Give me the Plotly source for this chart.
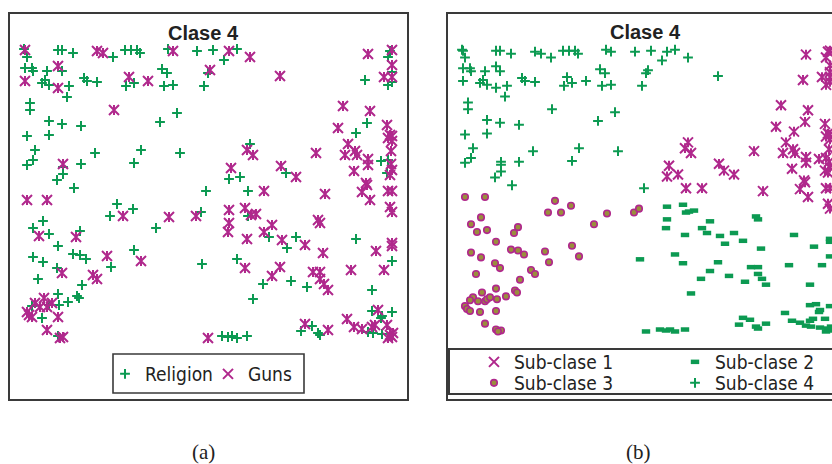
import plotly.graph_objects as go

# Document embedding: one entry per document (x, y), its topic and its sub-class
doc_x = [
    16, 15, 18, 49, 53, 64, 88, 94, 104, 116, 122, 128, 131, 159, 164, 188, 204, 220, 228, 215,
    241, 359, 383, 381, 379, 383,
    16, 23, 24, 38, 53, 49, 16, 33, 36, 40, 49, 60, 58, 75, 78, 88, 120, 117, 125, 139,
    153, 158, 155, 164, 201, 199, 195, 271, 356, 383, 375, 383, 379, 383,
    21, 21, 105, 168, 151, 40, 53, 72, 18, 40, 26, 24, 18, 86, 132, 171, 125, 72, 54, 54,
    54, 48, 65, 197,
    334, 361, 358, 347, 329, 378, 381, 383, 379, 383, 339, 336, 346, 348, 382, 307, 359, 359, 372, 379,
    382, 383, 345, 378, 381, 357, 358, 241, 238, 244, 222, 220, 231, 272, 277, 287, 239, 255, 316, 353,
    361, 379, 383, 381, 383,
    18, 38, 108, 124, 101, 114, 160, 147, 187, 192, 34, 24, 30, 40, 71, 67, 49, 24, 34, 64,
    71, 77, 98, 102, 125, 132, 48, 53, 29, 84, 88, 73, 49, 68, 70, 35, 59, 26, 23, 31,
    38, 40, 43, 50, 18, 20, 23, 33, 49, 38, 49, 54, 51,
    193, 220, 236, 239, 242, 247, 220, 219, 238, 255, 263, 260, 273, 278, 287, 296, 309, 311, 314, 347,
    367, 383, 383, 383, 228, 236, 271, 263, 254, 282, 298, 244, 304, 311, 311, 315, 319, 342, 375, 363,
    363, 369, 373, 372, 383, 338, 345, 353, 363, 366, 378, 381, 383, 379, 384, 359, 364, 373, 311, 309,
    319, 292, 296, 303, 199, 213, 219, 223, 228, 238,
]
doc_y = [
    350, 351, 343, 350, 350, 347, 349, 347, 343, 350, 350, 350, 347, 351, 349, 349, 350, 349, 351, 340,
    343, 346, 350, 349, 343, 335,
    332, 332, 329, 329, 329, 334, 319, 317, 320, 315, 312, 314, 303, 322, 319, 318, 323, 314, 317, 319,
    331, 327, 314, 315, 330, 327, 314, 324, 320, 328, 323, 323, 315, 318,
    297, 290, 290, 287, 278, 279, 276, 274, 264, 265, 250, 240, 235, 247, 250, 247, 237, 236, 236, 233,
    226, 220, 212, 209,
    294, 289, 277, 267, 272, 275, 265, 264, 262, 259, 256, 245, 249, 245, 249, 247, 241, 235, 239, 240,
    236, 230, 229, 227, 225, 217, 215, 256, 250, 245, 232, 221, 223, 234, 227, 223, 209, 209, 206, 208,
    200, 209, 209, 193, 188,
    200, 200, 196, 191, 184, 184, 183, 172, 184, 188, 179, 172, 164, 166, 169, 163, 154, 143, 138, 146,
    145, 141, 144, 133, 150, 139, 132, 127, 121, 125, 121, 115, 106, 104, 102, 102, 98, 97, 94, 93,
    93, 95, 97, 95, 88, 85, 83, 82, 83, 70, 64, 63, 62,
    136, 190, 192, 184, 185, 186, 177, 168, 161, 168, 175, 163, 160, 152, 163, 155, 180, 177, 147, 161,
    149, 157, 154, 139, 141, 132, 133, 124, 116, 119, 113, 101, 128, 128, 121, 116, 110, 130, 130, 110,
    89, 90, 84, 82, 88, 81, 73, 71, 73, 75, 75, 65, 63, 62, 67, 68, 67, 66, 65, 67,
    70, 69, 76, 74, 62, 64, 63, 64, 62, 64,
]
# R = Religion, G = Guns
topic = list(
    "GRRRRRGGRRRRRRGRRGRRGGGRRG"
    "RRRRRGGRRRGRRRRRGRRGRRRRGRRGRRGGRR"
    "RRGRRRRRRRRRRRRRRRGRRRRR"
    "GGRRGGGGGGGGGGGGGGRRGGGRGGGRGGGRRGRGRGGGGGGGG"
    "GGRRRGGRGRRRGRRGRRRRRRGRRGRGRGGRRRRGRGRGGRGRGGGRGGRGG"
    "RGGRGGGGGGGRGRRGGGGRGGGRRGGGRRRRGGGGGGGRRGRRRGGGGGGGGGGRRRRRGRGRGRRRRR"
)
subclass = list(
    "44444444444444444444411111"
    "4444444444444444444444444444111111"
    "444444444444444444444444"
    "111111111111111111111111111111111111111111111"
    "33333333333333333333333333333333333333333333333333333"
    "2222222222222222222222222222222222222222222222222222222222222222222222"
)

topic_names = {"R": "Religion", "G": "Guns"}
topic_order = ["R", "G"]
subclass_names = {"1": "Sub-clase 1", "2": "Sub-clase 2", "3": "Sub-clase 3", "4": "Sub-clase 4"}
panel_title = "Clase 4"
captions = ["(a)", "(b)"]

GREEN = "#0c9a52"
MAGENTA = "#b0288c"
OLIVE = "#9a8e3c"
INK = "#222222"
FRAME = "#3a3a3a"
LABEL_FONT = "DejaVu Sans Condensed, DejaVu Sans, sans-serif"
TITLE_FONT = "Liberation Sans, Arial, sans-serif"
CAPTION_FONT = "Liberation Serif, DejaVu Serif, serif"

W, H = 832, 464


def fx(p):
    return p / W


def fy(p):
    return 1 - p / H


def subset(mask):
    xs = [x for x, m in zip(doc_x, mask) if m]
    ys = [y for y, m in zip(doc_y, mask) if m]
    return xs, ys


plus_marker = dict(symbol="cross-thin-open", size=7, color=GREEN, line=dict(color=GREEN, width=2))
star_x_marker = dict(symbol="x-thin-open", size=10, color=MAGENTA, line=dict(color=MAGENTA, width=2))
star_v_marker = dict(symbol="line-ns-open", size=7, color=MAGENTA, line=dict(color=MAGENTA, width=2))
dash_marker = dict(symbol="line-ew-open", size=6, color=GREEN, line=dict(color=GREEN, width=4.5))
dot_marker = dict(symbol="circle", size=6.5, color=OLIVE, line=dict(color=MAGENTA, width=1.6))

fig = go.Figure()

# (a) documents coloured by topic
for code in topic_order:
    xs, ys = subset([t == code for t in topic])
    if code == "R":
        fig.add_trace(go.Scatter(x=xs, y=ys, mode="markers", name=topic_names[code],
                                 marker=plus_marker, xaxis="x", yaxis="y", legend="legend"))
    else:
        fig.add_trace(go.Scatter(x=xs, y=ys, mode="markers", name=topic_names[code],
                                 marker=star_x_marker, xaxis="x", yaxis="y", legend="legend"))
        fig.add_trace(go.Scatter(x=xs, y=ys, mode="markers", showlegend=False,
                                 marker=star_v_marker, xaxis="x", yaxis="y"))

# (b) the same documents coloured by sub-class
styles = {"1": star_x_marker, "2": dash_marker, "3": dot_marker, "4": plus_marker}
legend_of = {"1": "legend2", "2": "legend2", "3": "legend3", "4": "legend3"}
for code in ["1", "2", "3", "4"]:
    xs, ys = subset([s == code for s in subclass])
    fig.add_trace(go.Scatter(x=xs, y=ys, mode="markers", name=subclass_names[code],
                             marker=styles[code], xaxis="x2", yaxis="y2", legend=legend_of[code]))
    if code == "1":
        fig.add_trace(go.Scatter(x=xs, y=ys, mode="markers", showlegend=False,
                                 marker=star_v_marker, xaxis="x2", yaxis="y2"))

hidden = dict(visible=False, fixedrange=True)
legend_common = dict(orientation="h", bgcolor="rgba(0,0,0,0)", borderwidth=0,
                     font=dict(family=LABEL_FONT, size=19, color=INK),
                     entrywidthmode="pixels", xanchor="left", yanchor="middle",
                     itemclick=False, itemdoubleclick=False, traceorder="normal")

fig.update_layout(
    width=W, height=H,
    margin=dict(l=0, r=0, t=0, b=0, autoexpand=False),
    paper_bgcolor="white", plot_bgcolor="white",
    hovermode=False,
    xaxis=dict(domain=[fx(9), fx(408)], range=[0, 399], anchor="y", **hidden),
    yaxis=dict(domain=[fy(400), fy(13)], range=[0, 387], anchor="x", **hidden),
    xaxis2=dict(domain=[fx(447), 1], range=[0, 385], anchor="y2", **hidden),
    yaxis2=dict(domain=[fy(400), fy(13)], range=[-8.3, 388.7], anchor="x2", **hidden),
    legend=dict(x=fx(105), y=fy(374), entrywidth=58, **legend_common),
    legend2=dict(x=fx(474), y=fy(362), entrywidth=156, **legend_common),
    legend3=dict(x=fx(474), y=fy(383), entrywidth=156, **legend_common),
    shapes=[
        dict(type="rect", xref="paper", yref="paper", x0=fx(9), x1=fx(408), y0=fy(400), y1=fy(13),
             line=dict(color=FRAME, width=2), layer="above"),
        dict(type="rect", xref="paper", yref="paper", x0=fx(113), x1=fx(304), y0=fy(393), y1=fy(354),
             line=dict(color=FRAME, width=1.6), layer="above"),
        dict(type="rect", xref="paper", yref="paper", x0=fx(447), x1=1.2, y0=fy(400), y1=fy(13),
             line=dict(color=FRAME, width=2), layer="above"),
        dict(type="rect", xref="paper", yref="paper", x0=fx(449), x1=1.2, y0=fy(394), y1=fy(349),
             line=dict(color=FRAME, width=2), layer="above"),
    ],
    annotations=[
        dict(text="<b>" + panel_title + "</b>", x=fx(203), y=fy(33), xref="paper", yref="paper",
             showarrow=False, xanchor="center", yanchor="middle",
             font=dict(family=TITLE_FONT, size=20, color=INK)),
        dict(text="<b>" + panel_title + "</b>", x=fx(645), y=fy(32), xref="paper", yref="paper",
             showarrow=False, xanchor="center", yanchor="middle",
             font=dict(family=TITLE_FONT, size=20, color=INK)),
        dict(text=captions[0], x=fx(203), y=fy(452), xref="paper", yref="paper",
             showarrow=False, xanchor="center", yanchor="middle",
             font=dict(family=CAPTION_FONT, size=21, color=INK)),
        dict(text=captions[1], x=fx(638), y=fy(452), xref="paper", yref="paper",
             showarrow=False, xanchor="center", yanchor="middle",
             font=dict(family=CAPTION_FONT, size=21, color=INK)),
    ],
)

fig.write_html("out.html")
